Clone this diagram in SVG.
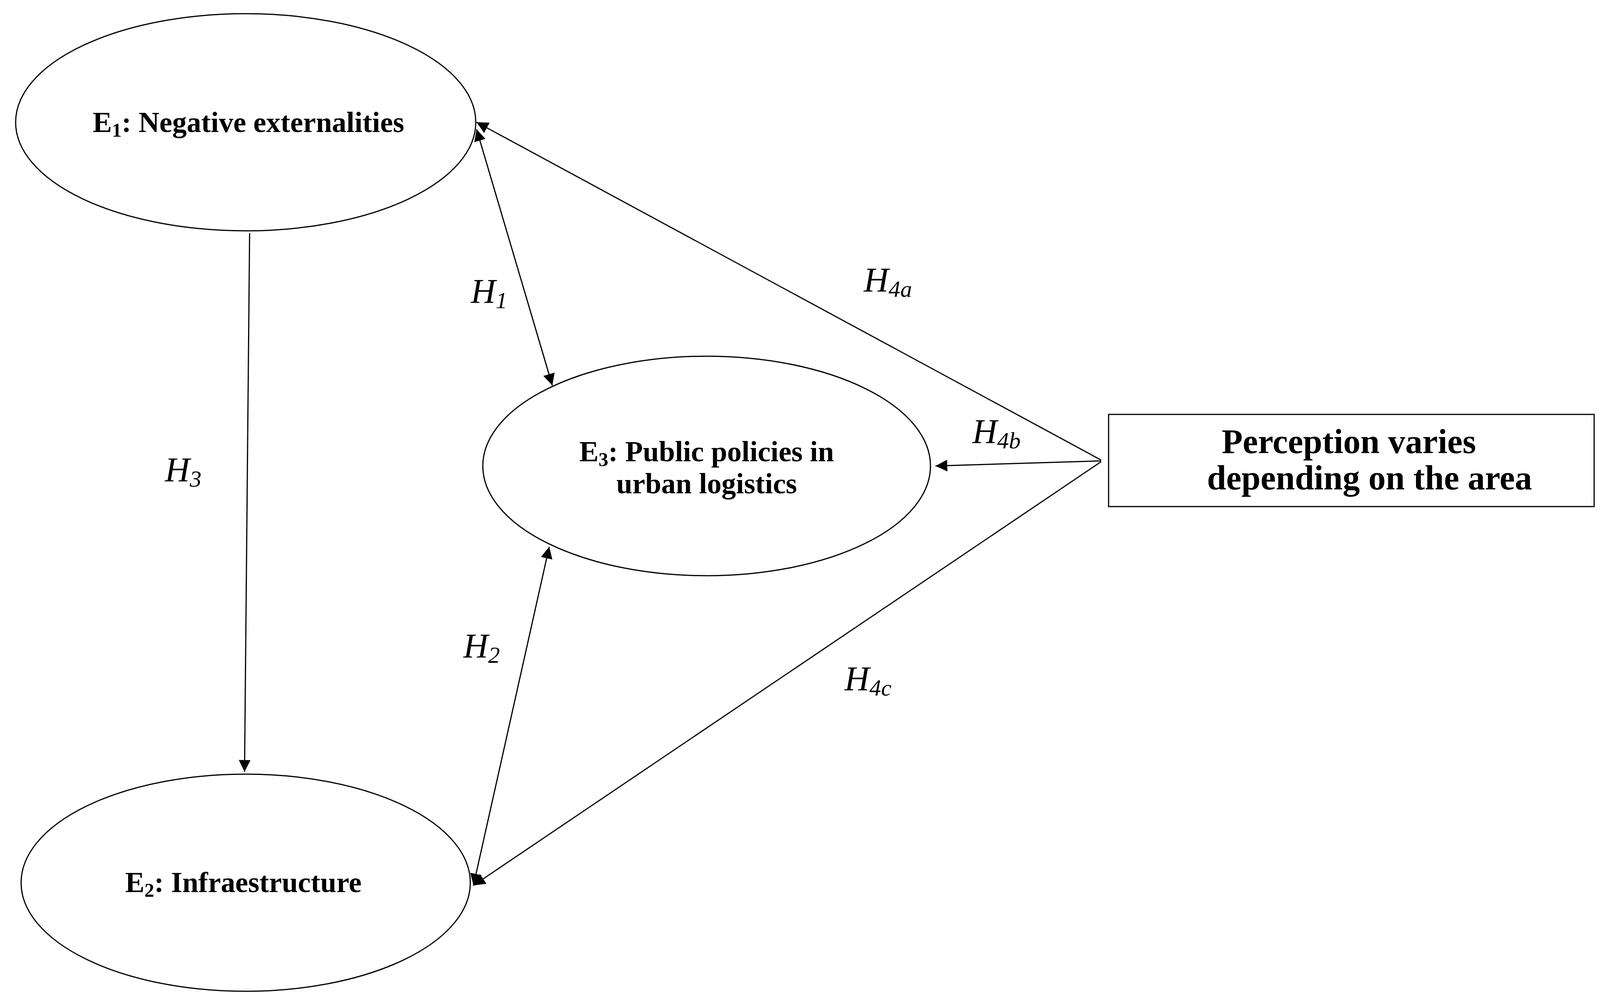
<svg xmlns="http://www.w3.org/2000/svg" width="4158" height="2568" viewBox="0 0 4158 2568">
<style>
.n{fill:#fff;stroke:#000;stroke-width:3}
.t{font-family:"Liberation Serif",serif;font-weight:bold;font-size:74px;text-anchor:middle}
.b{font-family:"Liberation Serif",serif;font-weight:bold;font-size:88px;text-anchor:middle}
.h{font-family:"Liberation Serif",serif;font-style:italic;font-size:88px;text-anchor:middle}
.c line{stroke:#000;stroke-width:3}
</style>
<defs>
<marker id="a" viewBox="0 0 10 10" refX="10" refY="5" markerWidth="10" markerHeight="10" markerUnits="userSpaceOnUse" orient="auto-start-reverse" style="overflow:visible"><path d="M0,0 L10,5 L0,10 z" transform="scale(3)" transform-origin="10 5"/></marker>
</defs>
<rect width="4158" height="2568" fill="#fff"/>
<g id="e1"><ellipse class="n" cx="629" cy="313" rx="589" ry="278"/><text class="t" x="636" y="338">E<tspan font-size="50" dy="12">1</tspan><tspan dy="-12">: Negative externalities</tspan></text></g>
<g id="e2"><ellipse class="n" cx="629" cy="2260" rx="575" ry="278"/><text class="t" x="623" y="2284">E<tspan font-size="50" dy="12">2</tspan><tspan dy="-12">: Infraestructure</tspan></text></g>
<g id="e3"><ellipse class="n" cx="1809" cy="1193" rx="573" ry="281"/><text class="t" x="1809" y="1181">E<tspan font-size="50" dy="12">3</tspan><tspan dy="-12">: Public policies in</tspan></text><text class="t" x="1809" y="1263">urban logistics</text></g>
<g id="box"><rect class="n" x="2838" y="1061" width="1243" height="236"/><text class="b" x="3453" y="1160">Perception varies</text><text class="b" x="3506" y="1253">depending on the area</text></g>
<g class="c" id="connectors">
<line x1="639" y1="597" x2="626" y2="1976" marker-end="url(#a)"/>
<line x1="1220" y1="331" x2="1414" y2="987" marker-start="url(#a)" marker-end="url(#a)"/>
<line x1="1212" y1="2267" x2="1406" y2="1400" marker-start="url(#a)" marker-end="url(#a)"/>
<line x1="2819" y1="1178" x2="1220" y2="313" marker-end="url(#a)"/>
<line x1="2819" y1="1180" x2="2395" y2="1193" marker-end="url(#a)"/>
<line x1="2819" y1="1182" x2="1212" y2="2267" marker-end="url(#a)"/>
</g>
<g id="labels">
<text class="h" x="1252" y="775">H<tspan font-size="60" dy="14">1</tspan></text>
<text class="h" x="1233" y="1683">H<tspan font-size="60" dy="14">2</tspan></text>
<text class="h" x="469" y="1232">H<tspan font-size="60" dy="14">3</tspan></text>
<text class="h" x="2273" y="746">H<tspan font-size="60" dy="14">4a</tspan></text>
<text class="h" x="2551" y="1134">H<tspan font-size="60" dy="14">4b</tspan></text>
<text class="h" x="2222" y="1767">H<tspan font-size="60" dy="14">4c</tspan></text>
</g>
</svg>
